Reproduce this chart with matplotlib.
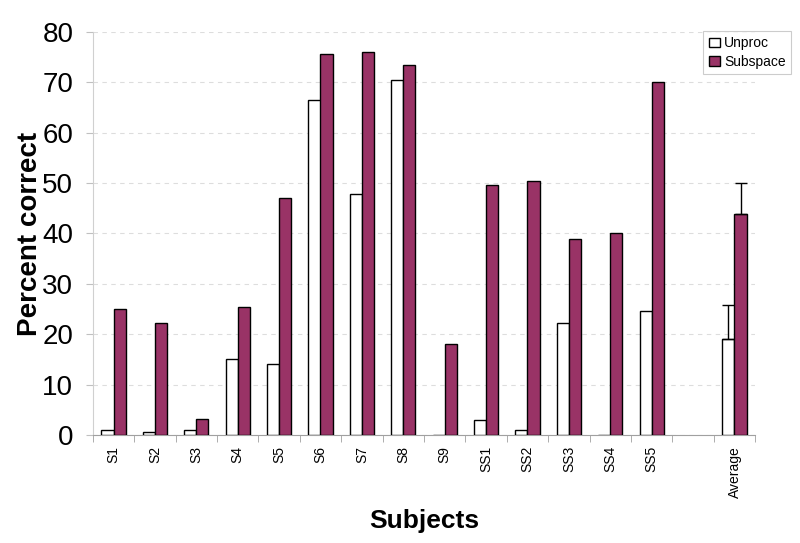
import numpy as np
import matplotlib.pyplot as plt

subjects = ['S1', 'S2', 'S3', 'S4', 'S5', 'S6', 'S7', 'S8', 'S9',
            'SS1', 'SS2', 'SS3', 'SS4', 'SS5', '', 'Average']
unproc = [1, 0.5, 1, 15, 14, 66.5, 47.8, 70.5, 0, 3, 1, 22.3, 0, 24.6, np.nan, 19.1]
subspace = [25, 22.2, 3.2, 25.5, 47, 75.7, 76, 73.4, 18, 49.6, 50.4, 39, 40, 70, np.nan, 43.8]
unproc_err = [0] * 15 + [6.7]
subspace_err = [0] * 15 + [6.3]

plt.rcParams['font.family'] = ['Liberation Sans', 'DejaVu Sans']

fig = plt.figure(figsize=(8, 5.43), dpi=100)
ax = fig.add_axes([0.116, 0.199, 0.828, 0.742])

x = np.arange(len(subjects))
w = 0.29
ax.bar(x - w / 2, unproc, w, color='white', edgecolor='black', linewidth=1, label='Unproc', zorder=3)
ax.bar(x + w / 2, subspace, w, color='#993366', edgecolor='black', linewidth=1, label='Subspace', zorder=3)

# error bars only on the average (upper side)
ax.errorbar(x[-1] - w / 2, unproc[-1], yerr=[[0], [unproc_err[-1]]], fmt='none',
            ecolor='black', elinewidth=1, capsize=4, zorder=4)
ax.errorbar(x[-1] + w / 2, subspace[-1], yerr=[[0], [subspace_err[-1]]], fmt='none',
            ecolor='black', elinewidth=1, capsize=4, zorder=4)

ax.set_xlim(-0.5, len(subjects) - 0.5)
ax.set_ylim(0, 80)
ax.set_yticks(range(0, 81, 10))
ax.tick_params(axis='y', labelsize=20, length=5, color='#c0c0c0', pad=9)
ax.yaxis.grid(True, linestyle=(0, (4, 4)), color='#dddddd', linewidth=0.8)
ax.set_axisbelow(True)

ax.set_xticks(x)
ax.set_xticklabels(subjects, rotation=90, fontsize=10)
ax.tick_params(axis='x', length=0, pad=8)
ax.set_xticks(np.arange(-0.5, len(subjects), 1), minor=True)
ax.tick_params(axis='x', which='minor', length=5, color='#a0a0a0')

for s in ['top', 'right']:
    ax.spines[s].set_visible(False)
ax.spines['left'].set_color('#d0d0d0')
ax.spines['bottom'].set_color('#a0a0a0')

ax.set_ylabel('Percent correct', fontsize=20, fontweight='bold', va='center')
ax.yaxis.set_label_coords(-0.095, 0.5)
ax.set_xlabel('Subjects', fontsize=19, fontweight='bold', va='center')
ax.xaxis.set_label_coords(0.5, -0.213)

leg = ax.legend(loc='upper right', bbox_to_anchor=(1.065, 1.02), fontsize=10,
                frameon=True, fancybox=False, handlelength=0.8, handletextpad=0.3,
                borderpad=0.4, labelspacing=0.3)
leg.get_frame().set_edgecolor('#c0c0c0')
leg.get_frame().set_linewidth(0.8)

plt.savefig('out.png', dpi=100)
